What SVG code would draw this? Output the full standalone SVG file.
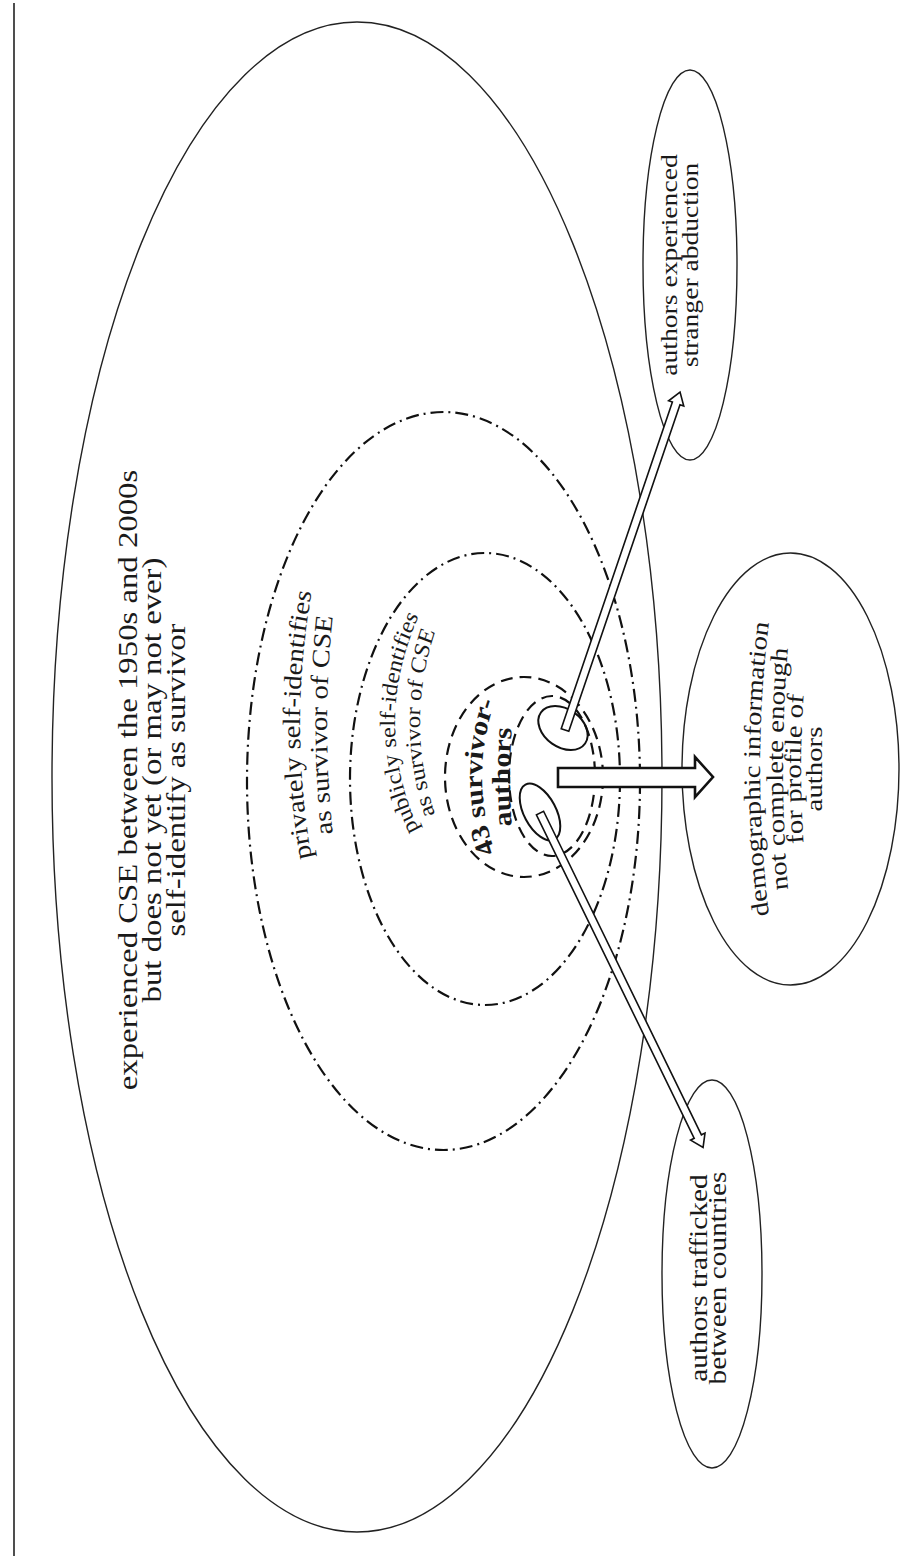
<svg xmlns="http://www.w3.org/2000/svg" width="900" height="1558" viewBox="0 0 900 1558">
<style>
.solid{fill:none;stroke:#222;stroke-width:1.4}
.dashdot{fill:none;stroke:#111;stroke-width:2.2;stroke-dasharray:13 5 2 5}
.dashed{fill:none;stroke:#111;stroke-width:2.2;stroke-dasharray:12 7}
.small{fill:none;stroke:#111;stroke-width:2}
.arrow{fill:#fff;stroke:#111;stroke-width:1.6;stroke-linejoin:miter}
.block{fill:#fff;stroke:#111;stroke-width:2.6;stroke-linejoin:miter}
text{font-family:"Liberation Serif","Times New Roman",serif;fill:#1a1a1a}
.t28{font-size:28px}
.t25{font-size:25px}
.t22{font-size:22px}
.t24{font-size:24px}
.t26{font-size:26px}
.bold{font-size:26px;font-weight:bold}
</style>
<defs>
<path id="p1" d="M -150 19.7 Q 0 -19.7 150 19.7"/>
<path id="p2" d="M -150 41.6 Q 0 12.4 150 41.6"/>
<path id="q1" d="M -140 46 Q 0 -56 140 46"/>
<path id="q2" d="M -140 64.5 Q 0 -24.5 140 64.5"/>
<path id="r1" d="M -100 12 Q 0 -48 100 12"/>
<path id="r2" d="M -100 20 Q 0 0 100 20"/>
<path id="d1" d="M -150 3.5 Q 0 -23.5 150 3.5"/>
<path id="d2" d="M -150 24 Q 0 2 150 24"/>
<path id="d3" d="M -150 46 Q 0 16 150 46"/>
<path id="d4" d="M -150 52 L 150 52"/>
</defs>

<line x1="14" y1="3" x2="14" y2="1556" stroke="#222" stroke-width="1.6"/>

<g id="node-experienced">
<ellipse class="solid" cx="357" cy="777" rx="305" ry="755"/>
<g transform="translate(0,780) rotate(-90) scale(1.17,1)" text-anchor="middle" class="t28">
<text x="0" y="137">experienced CSE between the 1950s and 2000s</text>
<text x="0" y="161">but does not yet (or may not ever)</text>
<text x="0" y="185">self-identify as survivor</text>
</g>
</g>

<g id="node-privately">
<ellipse class="dashdot" cx="443.5" cy="781" rx="196.5" ry="369"/>
<g transform="translate(300,725) rotate(-90) scale(1.15,1)" class="t25">
<text><textPath href="#p1" startOffset="50%" text-anchor="middle">privately self-identifies</textPath></text>
<text><textPath href="#p2" startOffset="50%" text-anchor="middle">as survivor of CSE</textPath></text>
</g>
</g>

<g id="node-publicly">
<ellipse class="dashdot" cx="485" cy="779" rx="135" ry="226"/>
<g transform="translate(400,723) rotate(-90) scale(1.12,1)" class="t22">
<text><textPath href="#q1" startOffset="50%" text-anchor="middle">publicly self-identifies</textPath></text>
<text><textPath href="#q2" startOffset="50%" text-anchor="middle">as survivor of CSE</textPath></text>
</g>
</g>

<g id="node-survivor-authors">
<ellipse class="dashed" cx="524" cy="777" rx="79" ry="100"/>
<ellipse class="dashed" cx="552" cy="776" rx="43" ry="80"/>
<g transform="translate(500,777) rotate(-90) scale(1.15,1)" class="bold">
<text><textPath href="#r1" startOffset="50%" text-anchor="middle">43 survivor-</textPath></text>
<text><textPath href="#r2" startOffset="50%" text-anchor="middle">authors</textPath></text>
</g>
</g>

<g id="node-subset-upper">
<ellipse class="small" cx="563" cy="728" rx="27" ry="19" transform="rotate(35 563 728)"/>
</g>
<g id="node-subset-lower">
<ellipse class="small" cx="540" cy="812" rx="31" ry="16" transform="rotate(62 540 812)"/>
</g>

<g id="node-stranger">
<ellipse class="solid" cx="690" cy="265" rx="47" ry="195"/>
<g transform="translate(0,265) rotate(-90) scale(1.15,1)" text-anchor="middle" class="t24">
<text x="0" y="677">authors experienced</text>
<text x="0" y="698">stranger abduction</text>
</g>
</g>

<g id="node-demographic">
<ellipse class="solid" cx="790.5" cy="769" rx="108.5" ry="216"/>
<g transform="translate(770,769) rotate(-90) scale(1.2,1)" class="t24">
<text><textPath href="#d1" startOffset="50%" text-anchor="middle">demographic information</textPath></text>
<text><textPath href="#d2" startOffset="50%" text-anchor="middle">not complete enough</textPath></text>
<text><textPath href="#d3" startOffset="50%" text-anchor="middle">for profile of</textPath></text>
<text><textPath href="#d4" startOffset="50%" text-anchor="middle">authors</textPath></text>
</g>
</g>

<g id="node-trafficked">
<ellipse class="solid" cx="712" cy="1274" rx="50" ry="194"/>
<g transform="translate(0,1278) rotate(-90) scale(1.13,1)" text-anchor="middle" class="t26">
<text x="0" y="707">authors trafficked</text>
<text x="0" y="726">between countries</text>
</g>
</g>

<g id="connectors">
<path class="arrow" d="M0 -4 H345 V-8 L357 0 L345 8 V4 H0 Z" transform="translate(565,730) rotate(-71.2)"/>
<path class="arrow" d="M0 -4 H360 V-8 L372 0 L360 8 V4 H0 Z" transform="translate(540,813) rotate(64)"/>
<polygon class="block" points="558,768 695,768 695,757 713,777 695,797 695,787 558,787"/>
</g>
</svg>
